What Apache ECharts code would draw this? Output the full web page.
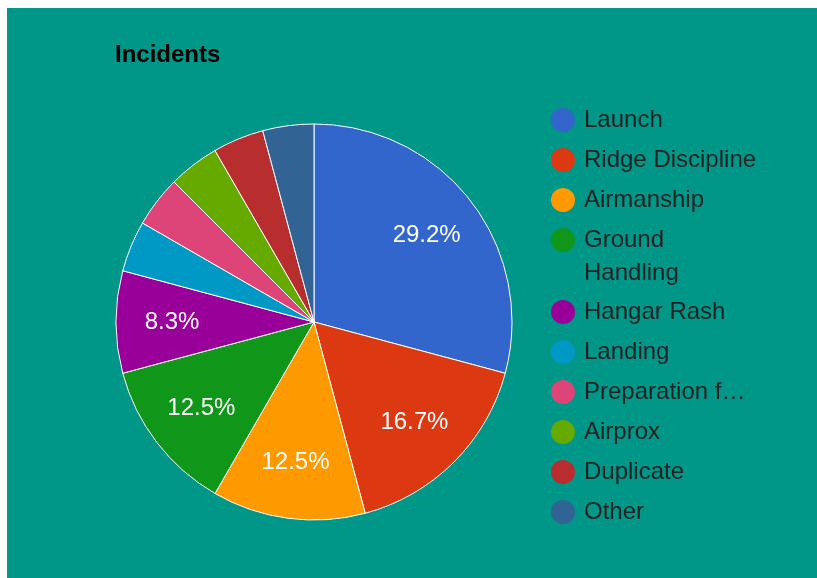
<!DOCTYPE html>
<html>
<head>
<meta charset="utf-8">
<script src="https://cdn.jsdelivr.net/npm/echarts@6/dist/echarts.min.js"></script>
<style>
html,body{margin:0;padding:0;background:#ffffff;width:817px;height:578px;overflow:hidden;}
#chart{position:absolute;left:7px;top:8px;width:810px;height:570px;background:#009688;}
</style>
</head>
<body>
<div id="chart"></div>
<script>
const title = 'Incidents';
const categories = ['Launch','Ridge Discipline','Airmanship','Ground Handling','Hangar Rash','Landing','Preparation for Flight','Airprox','Duplicate','Other'];
const counts = [7,4,3,3,2,1,1,1,1,1];
const colors = ['#3366cc','#dc3912','#ff9900','#109618','#990099','#0099c6','#dd4477','#66aa00','#b82e2e','#316395'];

const FONT = 'Arial, "Liberation Sans", sans-serif';
const total = counts.reduce((a,b)=>a+b,0);
const chart = echarts.init(document.getElementById('chart'), null, {renderer:'canvas'});

const mainData = categories.map((c,i)=>({name:c, value:counts[i], itemStyle:{color:colors[i]}}));
const labelData = categories.map((c,i)=>({name:c, value:counts[i]}));

const legendBase = {
  orient:'vertical', left:544, itemGap:8, itemWidth:24, itemHeight:24, icon:'circle', padding:0,
  itemStyle:{borderWidth:0, borderColor:'rgba(0,0,0,0)'},
  textStyle:{fontFamily:FONT, fontSize:24, lineHeight:32, color:'#222222', padding:[0,0,0,4]},
  inactiveColor:'#cccccc'
};

chart.setOption({
  animation:false,
  backgroundColor:'transparent',
  title:{text:title, left:108, top:35, padding:0,
    textStyle:{fontFamily:FONT, fontSize:24, fontWeight:'bold', color:'#000000'}},
  legend:[
    Object.assign({}, legendBase, {top:96, data:categories.slice(0,4),
      formatter:function(n){ return n === 'Ground Handling' ? 'Ground' : n; }}),
    Object.assign({}, legendBase, {top:288, data:categories.slice(4).map(function(n){
      return n === 'Preparation for Flight'
        ? {name:n, textStyle:{width:165, overflow:'truncate', ellipsis:'…'}}
        : n;
    })})
  ],
  graphic:[{type:'text', x:577, y:265, silent:true,
    style:{text:'Handling', font:'24px ' + FONT, fill:'#222222', verticalAlign:'middle', align:'left'}}],
  series:[
    {type:'pie', center:[307,314], radius:[0,198], startAngle:90, clockwise:true,
      avoidLabelOverlap:false, label:{show:false}, labelLine:{show:false},
      itemStyle:{borderColor:'#ffffff', borderWidth:1},
      emphasis:{scale:false}, data:mainData},
    {type:'pie', center:[307,314], radius:[80,198], startAngle:90, clockwise:true, silent:true,
      avoidLabelOverlap:false, labelLine:{show:false},
      itemStyle:{color:'rgba(0,0,0,0)', borderWidth:0},
      emphasis:{disabled:true},
      label:{show:true, position:'inside', fontFamily:FONT, fontSize:24, color:'#ffffff',
        formatter:function(p){ return p.value >= 2 ? (p.value/total*100).toFixed(1) + '%' : ''; }},
      data:labelData}
  ]
});
</script>
</body>
</html>
